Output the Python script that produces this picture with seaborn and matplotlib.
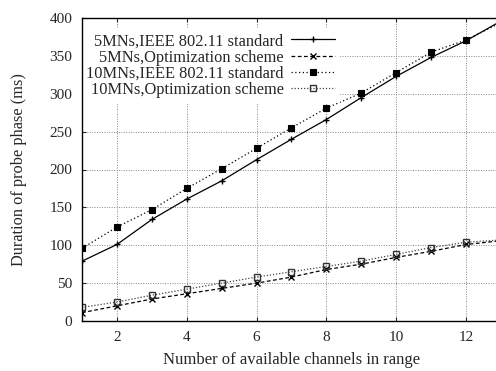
import numpy as np
import matplotlib
matplotlib.use("Agg")
import matplotlib.pyplot as plt
import seaborn as sns

# values
channels = [1, 2, 3, 4, 5, 6, 7, 8, 9, 10, 11, 12, 13]
mn5_ieee = [79, 101, 134, 161, 185, 213, 240, 266, 295, 323, 348, 370, 396]
mn5_opt = [11, 20, 29, 36, 43, 50, 58, 68, 75, 84, 92, 101, 106]
mn10_ieee = [96, 124, 147, 175, 201, 228, 255, 281, 301, 328, 355, 371, 394]
mn10_opt = [18, 25, 34, 42, 50, 58, 65, 72, 79, 88, 97, 104, 107]
labels = ["5MNs,IEEE 802.11 standard", "5MNs,Optimization scheme",
          "10MNs,IEEE 802.11 standard", "10MNs,Optimization scheme"]
xticks = [2, 4, 6, 8, 10, 12]
yticks = [0, 50, 100, 150, 200, 250, 300, 350, 400]

sns.set_style("ticks")
plt.rcParams['font.family'] = ['Liberation Serif', 'DejaVu Serif']
fs = 11

fig = plt.figure(figsize=(4.96, 3.71), dpi=100)
ax = fig.add_axes([82/496, 50/371, 419/496, 303/371])

sns.lineplot(x=channels, y=mn5_ieee, ax=ax, color="black", lw=0.9, ls="-",
             marker="+", ms=5, mew=1.0, mec="black", label=labels[0])
sns.lineplot(x=channels, y=mn5_opt, ax=ax, color="black", lw=0.9, ls=(0, (3, 2)),
             marker="x", ms=4, mew=1.0, mec="black", label=labels[1])
sns.lineplot(x=channels, y=mn10_ieee, ax=ax, color="black", lw=0.9, ls=(0, (1, 2)),
             marker="s", ms=4, mew=0.8, mec="black", mfc="black", label=labels[2])
sns.lineplot(x=channels, y=mn10_opt, ax=ax, color="#444444", lw=0.9, ls=(0, (1, 1.5)),
             marker="s", ms=5, mew=1.0, mec="#333333", mfc="none", label=labels[3])

ax.set_xlim(1, 13)
ax.set_ylim(0, 400)
ax.set_xticks(xticks)
ax.set_yticks(yticks)
ax.grid(True, color="#888888", ls=(0, (1, 1.5)), lw=0.7)
ax.tick_params(direction="in", top=True, right=True, length=3, width=0.8,
               labelsize=fs, pad=7)
for s in ax.spines.values():
    s.set_linewidth(1.0)
    s.set_color("black")

ax.set_xlabel("Number of available channels in range", fontsize=12, labelpad=6)
ax.set_ylabel("Duration of probe phase (ms)", fontsize=11.8, labelpad=16)

leg = ax.legend(loc="upper right", bbox_to_anchor=(0.616, 0.966), markerfirst=False,
                frameon=True, fancybox=False, edgecolor="none", facecolor="white",
                framealpha=1, fontsize=11.8, handlelength=2.7, handletextpad=0.45,
                labelspacing=0.02, borderaxespad=0, borderpad=0.3)
leg.set_zorder(2.4)

fig.savefig("out.png", dpi=100)
